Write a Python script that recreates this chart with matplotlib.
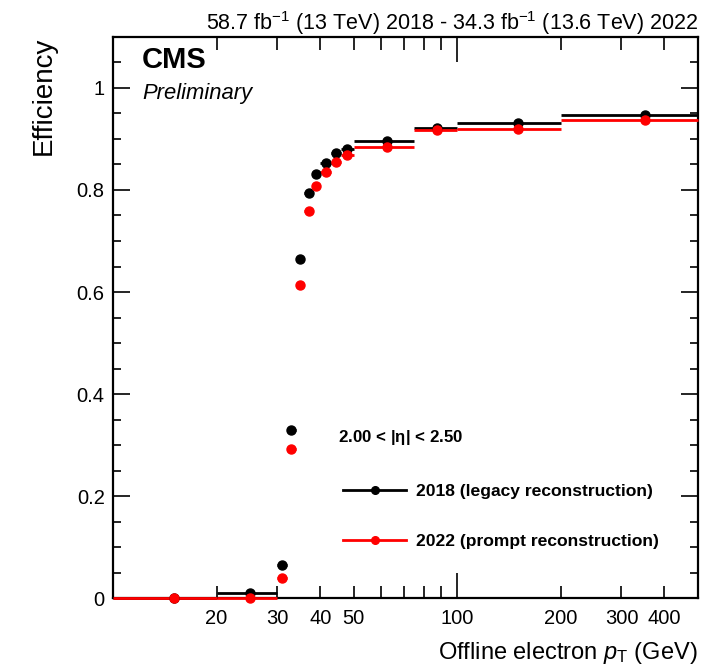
import matplotlib
matplotlib.use("Agg")
import matplotlib.pyplot as plt
from matplotlib.lines import Line2D
from matplotlib.ticker import FixedLocator, FixedFormatter, MultipleLocator, FuncFormatter
import numpy as np

plt.rcParams['font.family'] = ['Liberation Sans', 'DejaVu Sans']
plt.rcParams['mathtext.fontset'] = 'custom'
plt.rcParams['mathtext.rm'] = 'Liberation Sans'
plt.rcParams['mathtext.it'] = 'Liberation Sans:italic'
plt.rcParams['mathtext.bf'] = 'Liberation Sans:bold'

# pT bins (GeV)
bin_lo = [10, 20, 30, 32, 34, 36, 38, 40, 43, 46, 50, 75, 100, 200]
bin_hi = [20, 30, 32, 34, 36, 38, 40, 43, 46, 50, 75, 100, 200, 500]

# efficiencies
eff_2018 = [0.0, 0.010, 0.065, 0.330, 0.664, 0.794, 0.831, 0.852, 0.872,
            0.881, 0.895, 0.921, 0.932, 0.947]
eff_2022 = [0.0, 0.0, 0.039, 0.292, 0.614, 0.759, 0.808, 0.836, 0.855,
            0.868, 0.885, 0.918, 0.919, 0.938]

labels = ['2018 (legacy reconstruction)', '2022 (prompt reconstruction)']
colors = ['black', 'red']

lo = np.array(bin_lo, dtype=float)
hi = np.array(bin_hi, dtype=float)
centers = 0.5 * (lo + hi)
xerr = np.vstack([centers - lo, hi - centers])

fig = plt.figure(figsize=(7.15, 6.7), dpi=100)
ax = fig.add_axes([0.158, 0.107, 0.818, 0.838])

for eff, col in zip([eff_2018, eff_2022], colors):
    ax.errorbar(centers, eff, xerr=xerr, fmt='o', color=col, ms=6.5,
                elinewidth=2, capsize=0, clip_on=False, zorder=3)

ax.set_xscale('log')
ax.set_xlim(10, 500)
ax.set_ylim(0, 1.1)

# ticks
ax.xaxis.set_major_locator(FixedLocator([10, 100]))
ax.xaxis.set_major_formatter(FixedFormatter(['', '100']))
minor = [20, 30, 40, 50, 60, 70, 80, 90, 200, 300, 400, 500]
minor_lab = ['20', '30', '40', '50', '', '', '', '', '200', '300', '400', '']
ax.xaxis.set_minor_locator(FixedLocator(minor))
ax.xaxis.set_minor_formatter(FixedFormatter(minor_lab))
ax.yaxis.set_major_locator(MultipleLocator(0.2))
ax.yaxis.set_minor_locator(MultipleLocator(0.05))
ax.yaxis.set_major_formatter(FuncFormatter(lambda v, p: f'{v:.1f}'.rstrip('0').rstrip('.') if abs(v) > 1e-9 else '0'))
ax.tick_params(which='both', direction='in', top=True, right=True,
               labelsize=14.5, width=1.2)
ax.tick_params(axis='x', which='major', length=18, pad=8)
ax.tick_params(axis='x', which='minor', length=9, pad=8)
ax.tick_params(axis='y', which='major', length=12, pad=6)
ax.tick_params(axis='y', which='minor', length=6)
for s in ax.spines.values():
    s.set_linewidth(1.6)

ax.set_ylabel('Efficiency', fontsize=20, loc='top', labelpad=14)
ax.set_xlabel(r'Offline electron $p_{\mathrm{T}}$ (GeV)', fontsize=17,
              loc='right', labelpad=8)

ax.set_title(r'58.7 fb$^{-1}$ (13 TeV) 2018 - 34.3 fb$^{-1}$ (13.6 TeV) 2022',
             loc='right', fontsize=15.5, pad=4)

ax.text(0.05, 0.958, 'CMS', transform=ax.transAxes, fontsize=21,
        fontweight='bold', va='center', ha='left')
ax.text(0.05, 0.899, 'Preliminary', transform=ax.transAxes, fontsize=15.8,
        style='italic', va='center', ha='left')
ax.text(0.385, 0.287, r'2.00 < |$\mathbf{\eta}$| < 2.50', transform=ax.transAxes,
        fontsize=12.2, fontweight='bold', va='center', ha='left')

handles = [Line2D([0], [0], color=c, lw=2, marker='o', ms=5.5) for c in colors]
ax.legend(handles, labels, loc='center left', bbox_to_anchor=(0.394, 0.146),
          frameon=False, prop={'size': 12.6, 'weight': 'bold'},
          handlelength=3.6, handletextpad=0.57, labelspacing=1.97,
          borderpad=0, borderaxespad=0)

fig.savefig('out.png', dpi=100)
